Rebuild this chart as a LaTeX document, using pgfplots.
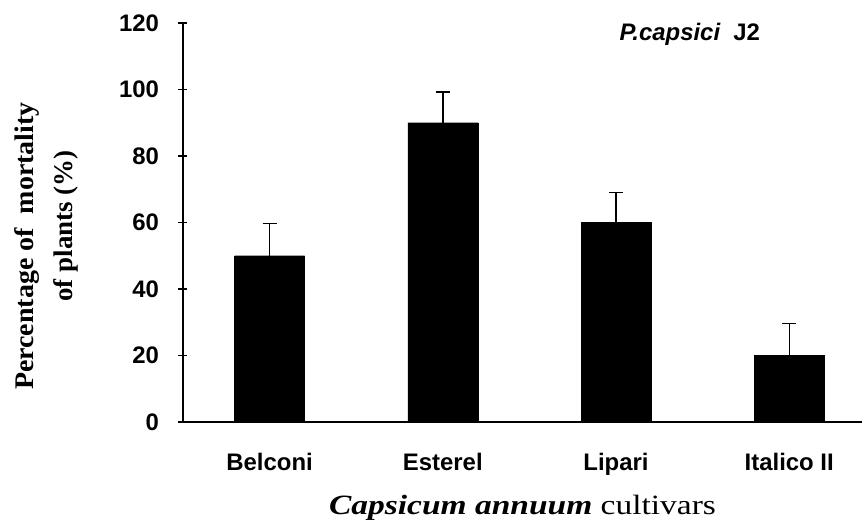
\documentclass[border=0pt]{standalone}
\usepackage{pgfplots}
\pgfplotsset{compat=1.18}
\usepackage{fontspec}
\setmainfont{Liberation Serif}
\setsansfont{Liberation Sans}
\begin{document}
\begin{tikzpicture}
\useasboundingbox (-183bp,-98bp) rectangle (682bp,422bp);
\begin{axis}[
  at={(0,0)}, anchor=south west,
  scale only axis,
  width=679bp, height=399bp,
  xmin=-0.5, xmax=3.42,
  ymin=0, ymax=120,
  ytick={0,20,...,120},
  xtick={0,1,2,3},
  xticklabels={Belconi,Esterel,Lipari,Italico II},
  extra x ticks={-0.5,0.5,1.5,2.5},
  extra x tick labels={},
  extra x tick style={major tick length=9bp, tick style={line width=1.2bp, black}},
  x tick style={draw=none},
  y tick style={line width=1.2bp, black},
  major tick length=9bp,
  tick align=outside,
  axis x line=bottom, axis y line=left,
  axis line style={-, line width=1.4bp, black},
  /pgf/number format/assume math mode=true,
  ticklabel style={font=\sffamily\bfseries\fontsize{24}{28}\selectfont},
  yticklabel style={xshift=-16bp},
  xticklabel style={yshift=-19bp},
  xlabel={\scalebox{1.2}[1]{\textbf{\textit{Capsicum annuum}} cultivars}},
  xlabel style={font=\fontsize{28}{32}\selectfont, yshift=6bp},
  ylabel={\scalebox{1.04}[1]{Percentage of\ \ mortality}\\\hspace*{40bp}of plants (\%)},
  ylabel style={font=\bfseries\fontsize{27}{39}\selectfont, align=center, at={(ticklabel cs:0.441,34bp)}},
  ybar, bar width=70bp, bar shift=0pt,
]
\addplot[fill=black, draw=black,
  error bars/.cd, y dir=plus, y explicit,
  error bar style={line width=1.5bp, black},
  error mark options={rotate=90, mark size=7bp, line width=1.5bp, black}]
  coordinates {
  (0,50) +- (0,9.7)
  (1,90) +- (0,9.3)
  (2,60) +- (0,9.0)
  (3,20) +- (0,9.6)
  };
\node[anchor=west, font=\sffamily\bfseries\fontsize{24}{28}\selectfont] at (axis cs:2.0,116.5) {\itshape P.capsici\ \ \upshape J2};
\end{axis}
\end{tikzpicture}
\end{document}
